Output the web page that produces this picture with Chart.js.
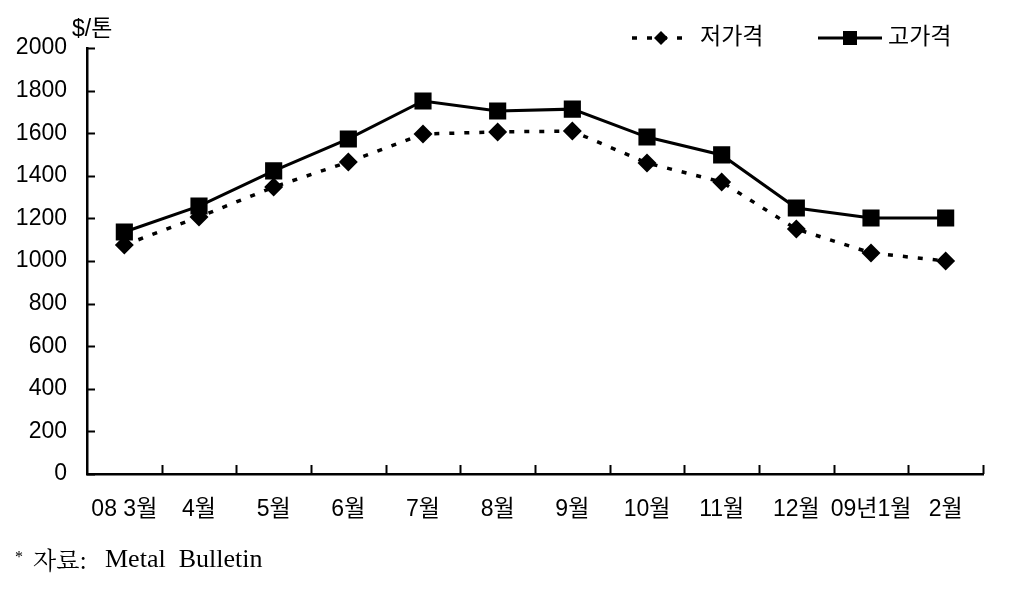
<!DOCTYPE html>
<html>
<head>
<meta charset="utf-8">
<script src="https://cdn.jsdelivr.net/npm/chart.js@4/dist/chart.umd.min.js"></script>
<style>
  html, body { margin: 0; padding: 0; background: #fff; }
  #wrap { width: 1022px; height: 603px; position: relative; }
</style>
</head>
<body>
<div id="wrap"><canvas id="priceChart" width="1022" height="603"></canvas></div>
<script>
const months = ['08 3월', '4월', '5월', '6월', '7월', '8월', '9월', '10월', '11월', '12월', '09년1월', '2월'];
const lowPrice = [1075, 1207, 1347, 1465, 1596, 1606, 1610, 1460, 1371, 1150, 1038, 1000];
const highPrice = [1136, 1258, 1423, 1573, 1751, 1704, 1713, 1582, 1498, 1249, 1202, 1202];
const yTicks = [0, 200, 400, 600, 800, 1000, 1200, 1400, 1600, 1800, 2000];

const FONT = "'Liberation Sans', 'Noto Sans CJK KR', sans-serif";

// inward tick marks, unit label, legend and source note
const extras = {
  id: 'extras',
  afterDraw(chart) {
    const { ctx, chartArea, scales } = chart;
    const x = scales.x, y = scales.y;
    ctx.save();
    ctx.strokeStyle = '#000';
    ctx.lineWidth = 2;
    yTicks.forEach(v => {
      const py = Math.round(y.getPixelForValue(v)) + 0.5;
      ctx.beginPath();
      ctx.moveTo(chartArea.left, py);
      ctx.lineTo(chartArea.left + 8, py);
      ctx.stroke();
    });
    const step = x.getPixelForValue(1) - x.getPixelForValue(0);
    for (let i = 1; i <= months.length; i++) {
      const px = Math.round(x.getPixelForValue(i) - step / 2) + 0.5;
      ctx.beginPath();
      ctx.moveTo(px, chartArea.bottom);
      ctx.lineTo(px, chartArea.bottom - 9);
      ctx.stroke();
    }

    ctx.fillStyle = '#000';
    ctx.textBaseline = 'middle';
    ctx.font = '23px ' + FONT;
    ctx.fillText('$/톤', 72, 30);

    // legend
    const ly = 38;
    ctx.lineWidth = 3.5;
    ctx.setLineDash([5, 10]);
    ctx.beginPath(); ctx.moveTo(632, ly); ctx.lineTo(692, ly); ctx.stroke();
    ctx.setLineDash([]);
    ctx.beginPath();
    ctx.moveTo(661, ly - 7); ctx.lineTo(668, ly); ctx.lineTo(661, ly + 7); ctx.lineTo(654, ly);
    ctx.closePath(); ctx.fill();
    ctx.fillText('저가격', 700, ly);

    ctx.lineWidth = 3;
    ctx.beginPath(); ctx.moveTo(818, ly); ctx.lineTo(882, ly); ctx.stroke();
    ctx.fillRect(843, ly - 7, 14, 14);
    ctx.fillText('고가격', 888, ly);

    // source
    ctx.font = "16px 'Liberation Serif', serif";
    ctx.fillText('*', 15, 558);
    ctx.font = "24px 'Noto Serif CJK KR', 'Noto Sans CJK KR', serif";
    ctx.fillText('자료:', 33, 560);
    ctx.font = "26px 'Liberation Serif', serif";
    ctx.fillText('Metal  Bulletin', 105, 560);
    ctx.restore();
  }
};

new Chart(document.getElementById('priceChart'), {
  type: 'line',
  data: {
    labels: months,
    datasets: [
      {
        label: '저가격',
        data: lowPrice,
        borderColor: '#000',
        backgroundColor: '#000',
        borderWidth: 3.5,
        borderDash: [5, 10],
        pointStyle: 'rectRot',
        pointRadius: 7,
        pointHoverRadius: 7,
        tension: 0
      },
      {
        label: '고가격',
        data: highPrice,
        borderColor: '#000',
        backgroundColor: '#000',
        borderWidth: 3,
        pointStyle: 'rect',
        pointRadius: 10,
        pointHoverRadius: 10,
        tension: 0
      }
    ]
  },
  options: {
    responsive: false,
    animation: false,
    layout: { padding: { left: 0, right: 39, top: 48, bottom: 69 } },
    plugins: {
      legend: { display: false },
      tooltip: { enabled: false }
    },
    scales: {
      x: {
        offset: true,
        grid: { display: false, drawTicks: false },
        border: { display: true, color: '#000', width: 2.5 },
        afterFit: s => { s.height = 60; },
        ticks: {
          padding: 22,
          color: '#000',
          maxRotation: 0,
          autoSkip: false,
          font: { family: FONT, size: 23 }
        }
      },
      y: {
        min: 0,
        max: 2000,
        grid: { display: false, drawTicks: false },
        border: { display: true, color: '#000', width: 2.5 },
        afterFit: s => { s.width = 87; },
        afterBuildTicks: s => { s.ticks = yTicks.map(v => ({ value: v })); },
        ticks: {
          padding: 20,
          color: '#000',
          callback: v => String(v),
          font: { family: FONT, size: 23 }
        }
      }
    }
  },
  plugins: [extras]
});
</script>
</body>
</html>
